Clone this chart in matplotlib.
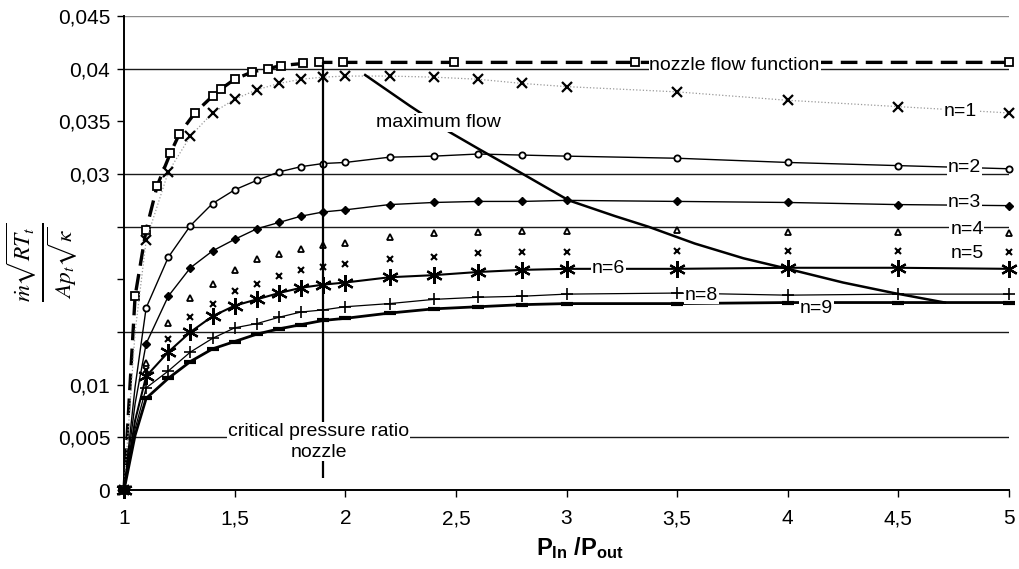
import matplotlib
matplotlib.use('Agg')
import matplotlib.pyplot as plt

plt.rcParams['font.family'] = ['Liberation Sans', 'DejaVu Sans']
plt.rcParams['mathtext.fontset'] = 'custom'
plt.rcParams['mathtext.rm'] = 'Liberation Sans'
plt.rcParams['mathtext.bf'] = 'Liberation Sans:bold'
plt.rcParams['mathtext.it'] = 'Liberation Sans:italic'

# pressure ratio grid of the stage curves
x_n = [1.0, 1.05, 1.1, 1.2, 1.3, 1.4, 1.5, 1.6, 1.7, 1.8, 1.9, 2.0,
       2.2, 2.4, 2.6, 2.8, 3.0, 3.5, 4.0, 4.5, 5.0]

n1 = [0, 0.0150, 0.0237, 0.0302, 0.0336, 0.0358, 0.0371, 0.0380, 0.0386, 0.0390, 0.0392,
      0.0393, 0.0393, 0.0392, 0.0390, 0.0386, 0.0383, 0.0378, 0.0370, 0.0364, 0.0358]
n2 = [0, 0.0098, 0.0173, 0.0221, 0.0251, 0.0272, 0.0285, 0.0294, 0.0302, 0.0307, 0.0310,
      0.0311, 0.0316, 0.0317, 0.0319, 0.0318, 0.0317, 0.0315, 0.0311, 0.0308, 0.0305]
n3 = [0, 0.0082, 0.0139, 0.0184, 0.0211, 0.0227, 0.0238, 0.0248, 0.0254, 0.0260, 0.0264,
      0.0266, 0.0271, 0.0273, 0.0274, 0.0274, 0.0275, 0.0274, 0.0273, 0.0271, 0.0270]
n4 = [0, 0.0075, 0.0121, 0.0159, 0.0182, 0.0196, 0.0209, 0.0219, 0.0224, 0.0229, 0.0233,
      0.0235, 0.0240, 0.0244, 0.0245, 0.0246, 0.0246, 0.0247, 0.0245, 0.0245, 0.0244]
n5 = [0, 0.0070, 0.0114, 0.0143, 0.0164, 0.0177, 0.0189, 0.0196, 0.0203, 0.0209, 0.0212,
      0.0215, 0.0219, 0.0221, 0.0225, 0.0226, 0.0226, 0.0227, 0.0227, 0.0227, 0.0226]
n6 = [0, 0.0066, 0.0108, 0.0131, 0.0150, 0.0165, 0.0175, 0.0181, 0.0187, 0.0192, 0.0195,
      0.0197, 0.0202, 0.0204, 0.0207, 0.0209, 0.0210, 0.0210, 0.0211, 0.0211, 0.0210]
n8 = [0, 0.0058, 0.0097, 0.0113, 0.0131, 0.0144, 0.0154, 0.0158, 0.0164, 0.0169, 0.0171,
      0.0174, 0.0177, 0.0181, 0.0183, 0.0184, 0.0186, 0.0187, 0.0185, 0.0186, 0.0186]
n9 = [0, 0.0052, 0.0087, 0.0106, 0.0122, 0.0134, 0.0141, 0.0148, 0.0153, 0.0157, 0.0161,
      0.0163, 0.0168, 0.0172, 0.0174, 0.0176, 0.0177, 0.0177, 0.0178, 0.0178, 0.0178]

# nozzle flow function
nozzle_x = [1.0, 1.05, 1.1, 1.15, 1.21, 1.25, 1.32, 1.4, 1.44, 1.5, 1.58, 1.65, 1.71,
            1.81, 1.88, 1.99, 2.49, 3.31, 5.0]
nozzle_y = [0, 0.0184, 0.0247, 0.0289, 0.0320, 0.0338, 0.0358, 0.0374, 0.0381, 0.0390,
            0.0397, 0.0400, 0.0403, 0.0405, 0.0406, 0.0406, 0.0406, 0.0406, 0.0406]

# locus of maximum flow
max_x = [2.09, 2.29, 2.47, 2.61, 2.77, 3.01, 3.22, 3.37, 3.58, 3.80, 3.98, 4.25, 4.48, 4.71]
max_y = [0.0394, 0.0365, 0.0340, 0.0323, 0.0304, 0.0275, 0.0260, 0.0250, 0.0234, 0.0220,
         0.0211, 0.0197, 0.0187, 0.0178]

crit_ratio = 1.9
grid_levels = [0.005, 0.015, 0.025, 0.03, 0.04, 0.045]

x_ticks = [1, 1.5, 2, 2.5, 3, 3.5, 4, 4.5, 5]
x_labels = ['1', '1,5', '2', '2,5', '3', '3,5', '4', '4,5', '5']
y_ticks = [0, 0.005, 0.01, 0.015, 0.02, 0.025, 0.03, 0.035, 0.04, 0.045]
y_labels = ['0', '0,005', '0,01', '', '', '', '0,03', '0,035', '0,04', '0,045']

fig = plt.figure(figsize=(10.2, 5.69), dpi=100)
ax = fig.add_axes([0.1216, 0.1388, 0.8676, 0.8330])

for g in grid_levels:
    ax.axhline(g, color='0.55' if g == 0.045 else '0.1', lw=1.0, zorder=1)

skip = [i for i in range(len(x_n)) if i != 1]

ax.plot(nozzle_x, nozzle_y, color='black', lw=2.4, ls=(0, (5, 2.5)), marker='s', ms=6,
        mfc='white', mec='black', mew=1.3, zorder=3, clip_on=False)
ax.plot(x_n, n1, color='0.6', lw=0.9, ls=':', marker='x', ms=7, mec='black', mew=1.6,
        markevery=skip, zorder=3, clip_on=False)
ax.plot(x_n, n2, color='black', lw=1.0, marker='o', ms=4.5, mfc='white', mec='black', mew=1.3,
        markevery=skip, zorder=3, clip_on=False)
ax.plot(x_n, n3, color='black', lw=1.0, marker='D', ms=4, mfc='black', mec='black',
        markevery=skip, zorder=3, clip_on=False)
ax.plot(x_n, n4, ls='none', marker='^', ms=4.5, mfc='white', mec='black', mew=1.3,
        markevery=skip, zorder=3, clip_on=False)
ax.plot(x_n, n5, ls='none', marker='x', ms=4.5, mec='black', mew=1.5,
        markevery=skip, zorder=3, clip_on=False)
ax.plot(x_n, n8, color='black', lw=0.9, marker='+', ms=8, mec='black', mew=1.2,
        markevery=skip, zorder=3, clip_on=False)
ax.plot(x_n, n9, color='black', lw=2.0, marker='_', ms=8, mec='black', mew=3,
        markevery=skip, zorder=3, clip_on=False)
ax.plot(x_n, n6, color='black', lw=1.5, marker=(6, 2, 0), ms=12, mec='black', mew=1.6,
        markevery=skip, zorder=4, clip_on=False)
ax.plot(max_x, max_y, color='black', lw=1.8, zorder=3)
ax.vlines(crit_ratio, 0.0011, nozzle_y[-1], color='black', lw=1.6, zorder=3)

box = dict(facecolor='white', edgecolor='none', pad=0.5)
fs = 14
ax.text(3.76, 0.0403, 'nozzle flow function', fontsize=fs, ha='center', va='center', bbox=box, zorder=6)
ax.text(2.42, 0.0349, 'maximum flow', fontsize=fs, ha='center', va='center', bbox=box, zorder=6)
ax.text(4.78, 0.0359, 'n=1', fontsize=fs, ha='center', va='center', bbox=box, zorder=6)
ax.text(4.80, 0.0306, 'n=2', fontsize=fs, ha='center', va='center', bbox=box, zorder=6)
ax.text(4.80, 0.0273, 'n=3', fontsize=fs, ha='center', va='center', bbox=box, zorder=6)
ax.text(4.81, 0.0247, 'n=4', fontsize=fs, ha='center', va='center', bbox=box, zorder=6)
ax.text(4.81, 0.0225, 'n=5', fontsize=fs, ha='center', va='center', bbox=box, zorder=6)
ax.text(3.19, 0.0210, 'n=6', fontsize=fs, ha='center', va='center', bbox=box, zorder=6)
ax.text(3.61, 0.0185, 'n=8', fontsize=fs, ha='center', va='center', bbox=box, zorder=6)
ax.text(4.13, 0.0172, 'n=9', fontsize=fs, ha='center', va='center', bbox=box, zorder=6)
ax.text(1.88, 0.0046, 'critical pressure ratio\nnozzle', fontsize=fs, ha='center', va='center',
        linespacing=1.3, bbox=box, zorder=6)

ax.set_xlim(1, 5)
ax.set_ylim(0, 0.045)
ax.set_xticks(x_ticks)
ax.set_xticklabels(x_labels)
ax.set_yticks(y_ticks)
ax.set_yticklabels(y_labels)
ax.tick_params(axis='x', direction='out', length=5, width=1, pad=9, labelsize=15)
ax.tick_params(axis='y', direction='out', length=5, width=1, pad=5, labelsize=15)
for s in ['top', 'right']:
    ax.spines[s].set_visible(False)
for s in ['left', 'bottom']:
    ax.spines[s].set_linewidth(1.4)

fig.text(580 / 1020, 1 - 548 / 569, r'$\mathbf{P_{In}}$ $\mathbf{/P_{out}}$', fontsize=17,
         ha='center', va='center')
fig.text(42 / 1020, 1 - 262 / 569, r'$\frac{\dot{m}\sqrt{RT_t}}{Ap_t\sqrt{\kappa}}$', fontsize=24,
         rotation=90, ha='center', va='center', math_fontfamily='stix')

fig.savefig('out.png', dpi=100)
